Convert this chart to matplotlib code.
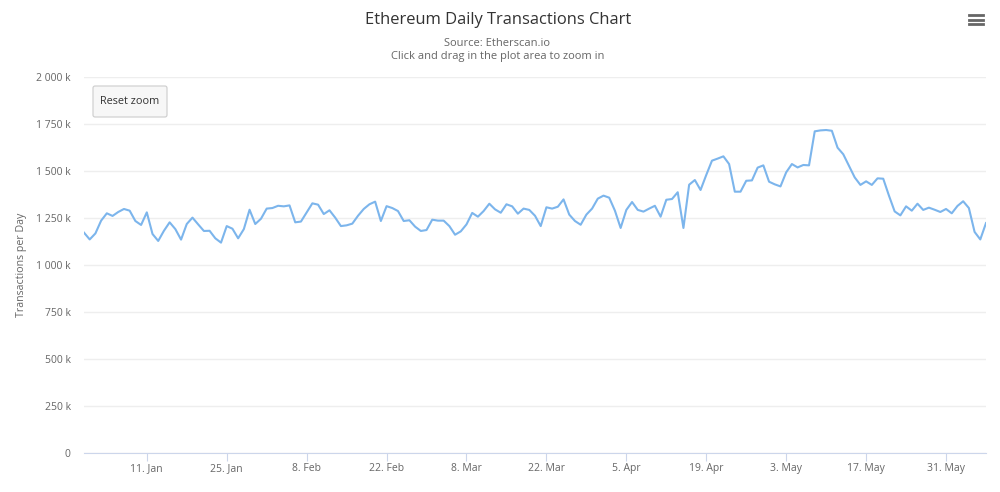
import matplotlib
matplotlib.use('Agg')
import matplotlib.pyplot as plt
import matplotlib.dates as mdates
from matplotlib.patches import FancyBboxPatch
import pandas as pd

plt.rcParams['font.family'] = ['Open Sans', 'DejaVu Sans']

# 每日交易量 (k)
jan_mar = [1172, 1136, 1168, 1236, 1275, 1261, 1282, 1298, 1289, 1234, 1213, 1280, 1165, 1128,
           1182, 1227, 1191, 1135, 1218, 1252, 1216, 1181, 1182, 1142, 1119, 1207, 1193, 1142,
           1191, 1294, 1218, 1246, 1300, 1303, 1315, 1312, 1317, 1227, 1231, 1280, 1328, 1321,
           1271, 1291, 1252, 1207, 1211, 1220, 1262, 1298, 1323, 1337, 1234, 1313]
mar_apr = [1303, 1287, 1234, 1238, 1204, 1181, 1186, 1241, 1236, 1236, 1207, 1161, 1179, 1216,
           1277, 1257, 1287, 1326, 1296, 1278, 1323, 1312, 1273, 1300, 1293, 1262, 1207, 1307,
           1300, 1310, 1349, 1268, 1234, 1214, 1268, 1300, 1353, 1369, 1358, 1289, 1197, 1293,
           1335, 1293, 1284, 1300, 1315, 1257, 1347, 1351, 1387, 1197]
apr_jun = [1427, 1452, 1399, 1479, 1555, 1566, 1578, 1537, 1390, 1390, 1448, 1450, 1518, 1530,
           1443, 1429, 1418, 1493, 1537, 1519, 1532, 1530, 1711, 1716, 1718, 1714, 1624, 1589,
           1528, 1466, 1426, 1445, 1426, 1461, 1459, 1369, 1285, 1264, 1312, 1289, 1326, 1293,
           1305, 1294, 1282, 1298, 1275, 1314, 1339, 1303, 1176, 1136, 1223]
values = jan_mar + mar_apr + apr_jun
dates = pd.date_range('2020-12-31', periods=len(values), freq='D')

y_ticks = [0, 250, 500, 750, 1000, 1250, 1500, 1750, 2000]
y_labels = ['0', '250 k', '500 k', '750 k', '1 000 k', '1 250 k', '1 500 k', '1 750 k', '2 000 k']
x_ticks = ['2021-01-11', '2021-01-25', '2021-02-08', '2021-02-22', '2021-03-08', '2021-03-22',
           '2021-04-05', '2021-04-19', '2021-05-03', '2021-05-17', '2021-05-31']

W, H = 1000, 492
fig = plt.figure(figsize=(W / 100, H / 100), dpi=100)
ax = fig.add_axes([84 / W, 1 - 453 / H, 902 / W, 376 / H])

ax.plot(dates, values, color='#7cb5ec', lw=1.5, solid_joinstyle='round', zorder=3)

ax.set_xlim(dates[0], dates[-1])
ax.set_ylim(0, 2000)
ax.set_yticks(y_ticks)
ax.set_yticklabels(y_labels)
ax.set_xticks(pd.to_datetime(x_ticks))
ax.xaxis.set_major_formatter(mdates.DateFormatter('%-d. %b'))
ax.grid(axis='y', color='#eeeeee', lw=1)
ax.set_axisbelow(True)
for s in ['top', 'right', 'left']:
    ax.spines[s].set_visible(False)
ax.spines['bottom'].set_color('#ccd6eb')
ax.tick_params(axis='x', length=6, color='#ccd6eb', labelsize=7.5, labelcolor='#666666', pad=1)
ax.tick_params(axis='y', length=0, labelsize=7.5, labelcolor='#666666', pad=9.5)
ax.set_ylabel('Transactions per Day', fontsize=7.7, color='#666666')
ax.yaxis.set_label_coords(-57 / 902, 0.5)

# 标题
fig.text(498 / W, 1 - 20.5 / H, 'Ethereum Daily Transactions Chart', ha='center', va='center',
         fontsize=11.9, color='#333333')
fig.text(497.5 / W, 1 - 44 / H, 'Source: Etherscan.io', ha='center', va='center',
         fontsize=8, color='#666666')
fig.text(497.5 / W, 1 - 57 / H, 'Click and drag in the plot area to zoom in', ha='center', va='center',
         fontsize=8, color='#666666')

# Reset zoom 按钮
btn = FancyBboxPatch((93, H - 117), 74, 31, boxstyle='round,pad=0,rounding_size=2',
                     transform=None, fc='#f7f7f7', ec='#cccccc', lw=0.8, zorder=5)
fig.add_artist(btn)
fig.text(130 / W, 1 - 102 / H, 'Reset zoom', ha='center', va='center',
         fontsize=7.8, color='#333333', zorder=6)

# 菜单图标
for y in [15, 19.5, 24]:
    fig.add_artist(plt.Line2D([969 / W, 983 / W], [1 - y / H, 1 - y / H], color='#666666', lw=2))

fig.savefig('out.png', dpi=100)
